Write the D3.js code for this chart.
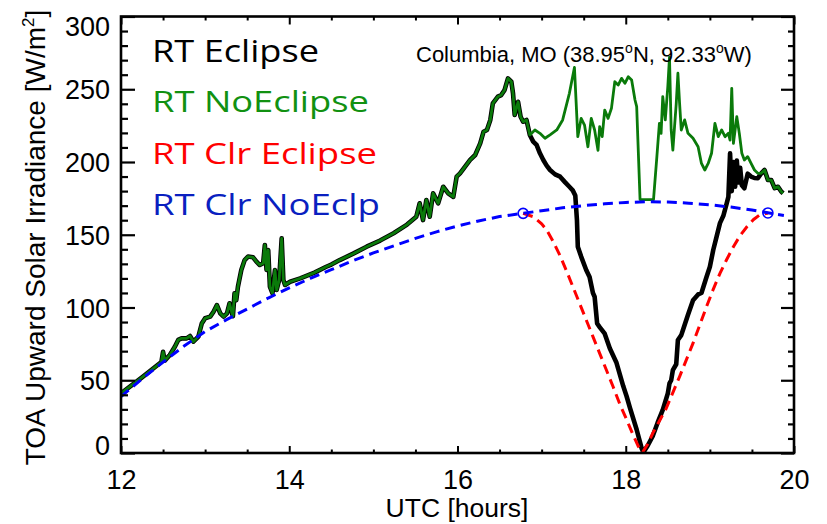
<!DOCTYPE html>
<html>
<head>
<meta charset="utf-8">
<script src="https://cdn.jsdelivr.net/npm/d3@7"></script>
<style>
  html, body { margin: 0; padding: 0; background: #fff; }
  svg { display: block; }
</style>
</head>
<body>
<svg id="chart" width="827" height="524"></svg>
<script>
// ---- Data: [UTC hour, TOA upward solar irradiance W/m^2] ----

// Clear-sky, no eclipse
const clrNoEclipse = [
  [12.00, 38.7], [12.25, 51], [12.50, 62.5], [12.75, 73.5], [13.00, 83.5],
  [13.25, 91.5], [13.50, 99], [13.75, 106.5], [14.00, 113.5], [14.25, 120],
  [14.50, 126], [14.75, 132], [15.00, 137.5], [15.25, 142.5], [15.50, 147.5],
  [15.75, 152], [16.00, 156], [16.25, 159.5], [16.50, 162.5], [16.75, 164.5],
  [17.00, 166.5], [17.25, 168.5], [17.50, 170], [17.75, 171.3], [18.00, 172.2],
  [18.25, 172.7], [18.50, 172.5], [18.75, 171.7], [19.00, 170.6], [19.25, 169],
  [19.50, 167], [19.75, 164.5], [19.88, 163.3]
];

// Clear-sky, with eclipse (between first and last contact)
const clrEclipse = [
  [16.78, 164.7], [16.90, 162.4], [17.00, 157.5], [17.06, 153.3], [17.14, 145],
  [17.22, 135.5], [17.30, 124.5], [17.37, 114.5], [17.45, 103], [17.53, 91.5],
  [17.61, 80], [17.69, 68.5], [17.77, 57], [17.85, 45.5], [17.93, 33.5],
  [18.01, 23], [18.09, 12], [18.15, 4.5], [18.20, 0.5], [18.26, 6],
  [18.32, 13.5], [18.40, 22], [18.48, 30.5], [18.56, 41.5], [18.64, 52.5],
  [18.72, 64], [18.80, 75.5], [18.88, 88], [18.96, 100.5], [19.04, 112.5],
  [19.12, 123.5], [19.20, 133], [19.28, 141.8], [19.36, 149.5], [19.44, 155.5],
  [19.52, 160.5], [19.59, 163.6], [19.69, 165]
];

// Eclipse start / end markers on the clear-sky curve
const contactPoints = [[16.78, 164.7], [19.69, 165]];

// All-sky, no eclipse
const noEclipse = [
  [12.00, 41], [12.25, 52], [12.48, 62.5], [12.50, 69.5], [12.52, 63.5],
  [12.58, 67.4], [12.64, 73], [12.68, 77.7], [12.72, 78.8], [12.78, 78.8],
  [12.82, 80.4], [12.86, 76.5], [12.92, 80], [12.96, 89], [13.00, 92.6],
  [13.06, 93.7], [13.10, 97.1], [13.14, 101.7], [13.18, 96], [13.22, 93.7],
  [13.26, 96], [13.29, 102.9], [13.32, 96], [13.33, 94], [13.35, 109.8],
  [13.37, 105], [13.39, 114.3], [13.43, 125.8], [13.47, 132.6], [13.51, 135],
  [13.57, 134.5], [13.61, 131.5], [13.65, 129.2], [13.69, 130.4], [13.71, 143],
  [13.73, 125.8], [13.75, 139.5], [13.77, 114.3], [13.80, 109.8], [13.83, 125.8],
  [13.85, 112], [13.88, 118.9], [13.91, 147.5], [13.93, 118.9], [13.95, 115.5],
  [14.01, 117.7], [14.13, 120], [14.30, 124], [14.44, 128], [14.50, 129.5],
  [14.60, 132.6], [14.76, 137], [14.92, 141.8], [15.08, 146], [15.24, 151],
  [15.40, 157], [15.51, 162.4], [15.55, 171.6], [15.59, 160.1], [15.63, 173.9],
  [15.67, 162.4], [15.71, 178.5], [15.77, 171.6], [15.83, 183], [15.89, 178.5],
  [15.95, 176], [15.99, 190], [16.03, 192.2], [16.09, 196.8], [16.15, 201.4],
  [16.21, 204.8], [16.27, 212.8], [16.31, 220.8], [16.35, 222], [16.39, 228.9],
  [16.42, 240.3], [16.48, 244.9], [16.52, 246], [16.56, 249.5], [16.60, 257.5],
  [16.64, 255.2], [16.66, 247.2], [16.68, 232.3], [16.72, 241.4], [16.75, 231.1],
  [16.78, 227.7], [16.82, 228.9], [16.86, 218.6], [16.92, 222], [16.98, 219.7],
  [17.04, 216.3], [17.10, 218.6], [17.18, 222], [17.25, 228.9], [17.33, 247.2],
  [17.39, 265], [17.43, 217.4], [17.47, 230], [17.51, 225.4], [17.55, 210.5],
  [17.59, 230], [17.63, 222], [17.67, 208], [17.69, 224.3], [17.72, 217.4],
  [17.75, 235.7], [17.79, 230], [17.83, 236.9], [17.87, 255.2], [17.91, 252.9],
  [17.95, 257.5], [17.99, 254.1], [18.03, 258.6], [18.07, 256.4], [18.11, 242.6],
  [18.13, 238], [18.17, 174.2], [18.33, 174.2], [18.37, 203.7], [18.40, 226.6],
  [18.42, 219.7], [18.44, 244.9], [18.47, 228.9], [18.50, 251.8], [18.52, 272],
  [18.54, 222], [18.56, 208.2], [18.58, 224.3], [18.60, 240], [18.62, 261],
  [18.64, 240.3], [18.66, 222], [18.70, 228.9], [18.74, 219.7], [18.80, 216.3],
  [18.86, 210.5], [18.90, 199], [18.94, 194.5], [18.98, 199], [19.02, 206],
  [19.06, 226.6], [19.10, 217.4], [19.14, 222], [19.18, 217.4], [19.22, 219.7],
  [19.24, 215], [19.26, 250.6], [19.28, 212.8], [19.32, 231.1], [19.35, 219.7],
  [19.38, 206], [19.41, 201.4], [19.45, 203.7], [19.49, 199], [19.53, 194.5],
  [19.57, 192.2], [19.61, 192.2], [19.65, 194.5], [19.69, 187.6], [19.73, 187.6],
  [19.77, 182], [19.81, 183], [19.85, 179.6], [19.87, 178.5]
];

// All-sky with eclipse, where it departs from the no-eclipse run
const eclipseSegment = [
  [16.86, 218.6], [16.90, 214], [16.94, 211.7], [16.98, 206], [17.02, 201.4],
  [17.06, 197.5], [17.10, 194.5], [17.16, 191.5], [17.22, 189.9], [17.28, 186],
  [17.33, 183], [17.37, 180.5], [17.40, 177], [17.42, 160], [17.43, 141.8],
  [17.47, 135], [17.53, 125.8], [17.57, 121], [17.61, 110], [17.63, 107.4],
  [17.66, 89], [17.69, 86.5], [17.75, 82], [17.81, 72], [17.89, 62],
  [17.97, 46], [18.01, 39], [18.05, 31], [18.13, 16], [18.19, 3],
  [18.21, 0.5], [18.26, 5], [18.32, 11.5], [18.38, 21], [18.44, 29.6],
  [18.50, 41], [18.52, 47.9], [18.54, 50], [18.56, 57], [18.60, 61],
  [18.62, 77.7], [18.66, 81], [18.68, 84.5], [18.74, 95], [18.80, 105],
  [18.86, 109], [18.90, 110], [18.96, 121], [19.00, 128], [19.04, 139.5],
  [19.08, 148.7], [19.12, 158], [19.16, 163], [19.20, 171.6], [19.22, 176],
  [19.24, 206], [19.26, 180], [19.28, 200], [19.30, 183], [19.32, 201],
  [19.34, 186], [19.36, 196], [19.38, 184], [19.41, 182], [19.45, 192],
  [19.49, 190], [19.53, 189], [19.57, 188.8], [19.61, 192.2]
];

const xTicks = [12, 14, 16, 18, 20];
const yTicks = [0, 50, 100, 150, 200, 250, 300];
const legendLabels = ["RT Eclipse", "RT NoEclipse", "RT Clr Eclipse", "RT Clr NoEclp"];
const siteName = "Columbia, MO (38.95";
const siteLat = "N, 92.33";
const siteLon = "W)";

// The eclipse run shares the no-eclipse values outside the eclipse window
const eclStart = eclipseSegment[0][0];
const eclEnd = eclipseSegment[eclipseSegment.length - 1][0];
const eclipse = noEclipse.filter(d => d[0] < eclStart)
  .concat(eclipseSegment)
  .concat(noEclipse.filter(d => d[0] > eclEnd));

// ---- Layout ----
const svg = d3.select("#chart");
const plot = { left: 121, right: 794, top: 16.5, bottom: 453 };
const axisFont = "'Liberation Sans', Arial, Helvetica, sans-serif";
const x = d3.scaleLinear().domain([12, 20]).range([plot.left, plot.right]);
const y = d3.scaleLinear().domain([0, 300]).range([plot.bottom, plot.top]);

svg.append("defs").append("clipPath").attr("id", "plotClip")
  .append("rect")
  .attr("x", plot.left).attr("y", plot.top - 2)
  .attr("width", plot.right - plot.left).attr("height", plot.bottom - plot.top + 2);

const line = d3.line().x(d => x(d[0])).y(d => y(d[1]));
const lines = svg.append("g").attr("clip-path", "url(#plotClip)");

lines.append("path").datum(eclipse)
  .attr("d", line).attr("fill", "none")
  .attr("stroke", "#000").attr("stroke-width", 4.6)
  .attr("stroke-linejoin", "round");

lines.append("path").datum(noEclipse)
  .attr("d", line).attr("fill", "none")
  .attr("stroke", "#0a7a0a").attr("stroke-width", 2.8)
  .attr("stroke-linejoin", "round");

lines.append("path").datum(clrEclipse)
  .attr("d", line).attr("fill", "none")
  .attr("stroke", "#ff0000").attr("stroke-width", 3)
  .attr("stroke-dasharray", "10,6");

lines.append("path").datum(clrNoEclipse)
  .attr("d", line).attr("fill", "none")
  .attr("stroke", "#0000ff").attr("stroke-width", 3)
  .attr("stroke-dasharray", "10,6");

svg.append("g").selectAll("circle").data(contactPoints).join("circle")
  .attr("cx", d => x(d[0])).attr("cy", d => y(d[1])).attr("r", 5)
  .attr("fill", "none").attr("stroke", "#0000ff").attr("stroke-width", 1.6);

// ---- Axes (ticks drawn inward on all four sides) ----
const xMinor = d3.range(12, 20.01, 0.5).filter(v => !xTicks.includes(v));
const yMinor = d3.range(0, 300.1, 10).filter(v => !yTicks.includes(v));

function styleAxis(g, w) {
  g.select(".domain").remove();
  g.selectAll(".tick line").attr("stroke", "#000").attr("stroke-width", w);
}

// bottom
svg.append("g").attr("transform", `translate(0,${plot.bottom})`)
  .call(d3.axisBottom(x).tickValues(xTicks).tickSize(-7).tickSizeOuter(0)
    .tickFormat(d3.format("d")))
  .call(g => styleAxis(g, 2))
  .call(g => g.selectAll(".tick text")
    .attr("y", 36).attr("dy", null)
    .attr("font-family", axisFont).attr("font-size", 27).attr("fill", "#000"));
svg.append("g").attr("transform", `translate(0,${plot.bottom})`)
  .call(d3.axisBottom(x).tickValues(xMinor).tickSize(-3.5).tickFormat(""))
  .call(g => styleAxis(g, 2));

// top
svg.append("g").attr("transform", `translate(0,${plot.top})`)
  .call(d3.axisTop(x).tickValues(xTicks).tickSize(-8).tickFormat(""))
  .call(g => styleAxis(g, 2));
svg.append("g").attr("transform", `translate(0,${plot.top})`)
  .call(d3.axisTop(x).tickValues(xMinor).tickSize(-4).tickFormat(""))
  .call(g => styleAxis(g, 2));

// left
svg.append("g").attr("transform", `translate(${plot.left},0)`)
  .call(d3.axisLeft(y).tickValues(yTicks).tickSize(-14).tickPadding(11))
  .call(g => styleAxis(g, 2.2))
  .call(g => g.selectAll(".tick text")
    .attr("font-family", axisFont).attr("font-size", 27).attr("fill", "#000")
    .attr("dy", "0.36em")
    .attr("y", d => Math.min(Math.max(y(d), plot.top + 9.5), plot.bottom - 8) - y(d)));
svg.append("g").attr("transform", `translate(${plot.left},0)`)
  .call(d3.axisLeft(y).tickValues(yMinor).tickSize(-7).tickFormat(""))
  .call(g => styleAxis(g, 2.2));

// right
svg.append("g").attr("transform", `translate(${plot.right},0)`)
  .call(d3.axisRight(y).tickValues(yTicks).tickSize(-13).tickFormat(""))
  .call(g => styleAxis(g, 2.2));
svg.append("g").attr("transform", `translate(${plot.right},0)`)
  .call(d3.axisRight(y).tickValues(yMinor).tickSize(-6).tickFormat(""))
  .call(g => styleAxis(g, 2.2));

// frame
svg.append("rect")
  .attr("x", plot.left).attr("y", plot.top)
  .attr("width", plot.right - plot.left).attr("height", plot.bottom - plot.top)
  .attr("fill", "none").attr("stroke", "#000").attr("stroke-width", 2.6);

// ---- Axis titles ----
svg.append("text")
  .attr("x", (plot.left + plot.right) / 2 - 0.5).attr("y", 517)
  .attr("text-anchor", "middle")
  .attr("font-family", axisFont).attr("font-size", 26.5).attr("fill", "#000")
  .text("UTC [hours]");

const yTitle = svg.append("text")
  .attr("transform", "translate(45,237.5) rotate(-90)")
  .attr("text-anchor", "middle")
  .attr("font-family", axisFont).attr("font-size", 28).attr("fill", "#000");
yTitle.append("tspan").text("TOA Upward Solar Irradiance [W/m");
yTitle.append("tspan").attr("font-size", 17).attr("dy", -11).text("2");
yTitle.append("tspan").attr("dy", 11).text("]");

// ---- Site annotation ----
const site = svg.append("text")
  .attr("x", 416).attr("y", 61.5)
  .attr("font-family", axisFont).attr("font-size", 22).attr("fill", "#000");
site.append("tspan").text(siteName);
site.append("tspan").attr("font-size", 14).attr("dy", -9).text("o");
site.append("tspan").attr("dy", 9).text(siteLat);
site.append("tspan").attr("font-size", 14).attr("dy", -9).text("o");
site.append("tspan").attr("dy", 9).text(siteLon);

// ---- Legend ----
const legendColors = ["#000000", "#119111", "#ff0000", "#0a1fc0"];
const legendSizes = [31, 29, 29, 29];
const legendWidths = [167, 217, 225, 228];
const legendBaselines = [62.3, 112.3, 164, 215];
svg.append("g").selectAll("text").data(legendLabels).join("text")
  .attr("x", 152)
  .attr("y", (d, i) => legendBaselines[i])
  .attr("font-family", "'Open Sans', Lato, sans-serif")
  .attr("font-weight", 400)
  .attr("font-size", (d, i) => legendSizes[i])
  .attr("fill", (d, i) => legendColors[i])
  .attr("textLength", (d, i) => legendWidths[i])
  .attr("lengthAdjust", "spacingAndGlyphs")
  .text(d => d);
</script>
</body>
</html>
